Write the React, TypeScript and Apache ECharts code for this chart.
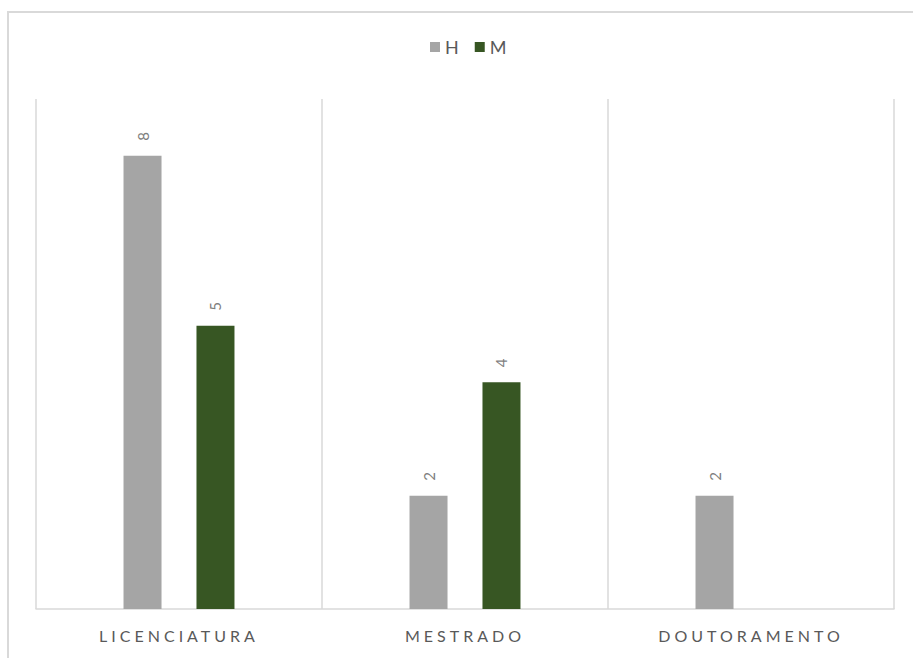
import React, { useEffect, useRef } from "react";
import * as echarts from "echarts";

const categories = ["LICENCIATURA", "MESTRADO", "DOUTORAMENTO"];
const seriesNames = ["H", "M"];
const valuesH = [8, 2, 2];
const valuesM: (number | null)[] = [5, 4, null];

const FONT = "Lato, 'Open Sans', sans-serif";

export default function App() {
  const ref = useRef<HTMLDivElement>(null);

  useEffect(() => {
    document.body.style.margin = "0";
    const chart = echarts.init(ref.current!, null, { renderer: "svg" });

    const label = {
      show: true,
      position: "top" as const,
      rotate: 90,
      align: "left" as const,
      verticalAlign: "middle" as const,
      distance: 15,
      color: "#7f7f7f",
      fontSize: 15,
      fontFamily: FONT,
    };

    chart.setOption({
      animation: false,
      backgroundColor: "#ffffff",
      textStyle: { fontFamily: FONT },
      graphic: [
        {
          type: "rect",
          shape: { x: 8, y: 12, width: 1000, height: 1000 },
          style: { fill: "none", stroke: "#d9d9d9", lineWidth: 2 },
          silent: true,
        },
      ],
      legend: {
        top: 38,
        left: 430,
        padding: 0,
        itemWidth: 10,
        itemHeight: 10,
        itemGap: 16,
        icon: "rect",
        data: seriesNames,
        textStyle: { color: "#595959", fontSize: 18, fontFamily: FONT },
      },
      grid: { left: 36, right: 19, top: 99, bottom: 49, containLabel: false },
      xAxis: {
        type: "category",
        data: categories,
        boundaryGap: true,
        axisLine: { show: true, lineStyle: { color: "#d9d9d9", width: 1.5 } },
        axisTick: { show: false },
        splitLine: {
          show: true,
          showMinLine: true,
          showMaxLine: true,
          lineStyle: { color: "#d9d9d9", width: 1.5 },
        },
        axisLabel: {
          color: "#595959",
          fontSize: 16,
          fontFamily: FONT,
          margin: 18,
        },
      },
      yAxis: {
        type: "value",
        min: 0,
        max: 9,
        interval: 1,
        axisLine: { show: false },
        axisTick: { show: false },
        axisLabel: { show: false },
        splitLine: { show: false },
      },
      series: [
        {
          name: seriesNames[0],
          type: "bar",
          data: valuesH,
          barWidth: 38,
          barGap: "92%",
          itemStyle: { color: "#a5a5a5" },
          label,
        },
        {
          name: seriesNames[1],
          type: "bar",
          data: valuesM,
          barWidth: 38,
          barGap: "92%",
          itemStyle: { color: "#375623" },
          label,
        },
      ],
    });

    return () => chart.dispose();
  }, []);

  return (
    <>
      <style>{`.chart-box svg text { letter-spacing: 4px; }`}</style>
      <div className="chart-box" ref={ref} style={{ width: 913, height: 658 }} />
    </>
  );
}
